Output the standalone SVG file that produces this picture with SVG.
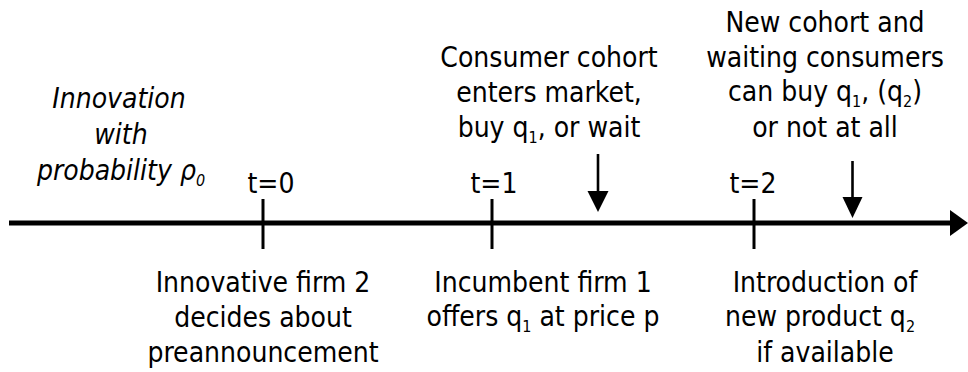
<svg xmlns="http://www.w3.org/2000/svg" width="968" height="372" viewBox="0 0 968 372">
  <style>
    text { font-family: "DejaVu Sans Condensed", "DejaVu Sans", Verdana, sans-serif; font-stretch: condensed; font-size: 28px; fill: #000; text-anchor: middle; }
    .it { font-style: italic; }
    .sub { font-size: 16px; }
    .axis { stroke: #000; stroke-width: 5; fill: none; }
    .tick { stroke: #000; stroke-width: 3; }
    .pointer { stroke: #000; stroke-width: 2.6; }
    .head { fill: #000; }
  </style>

  <g id="connectors">
    <!-- time axis -->
    <line class="axis" x1="9" y1="223" x2="952" y2="223"/>
    <path class="head" d="M950,210 L968,223 L950,236 Z"/>
    <!-- period ticks -->
    <line class="tick" x1="263" y1="199" x2="263" y2="249"/>
    <line class="tick" x1="492" y1="199" x2="492" y2="249"/>
    <line class="tick" x1="754" y1="199" x2="754" y2="249"/>
    <!-- consumer decision pointers -->
    <line class="pointer" x1="598" y1="154" x2="598" y2="200"/>
    <path class="head" d="M587.5,191 L608.5,191 L598,212 Z"/>
    <line class="pointer" x1="852.5" y1="161" x2="852.5" y2="206"/>
    <path class="head" d="M842.5,197 L862.5,197 L852.5,218 Z"/>
  </g>

  <g id="innovation">
    <text class="it" x="119" y="108">Innovation</text>
    <text class="it" x="121" y="144">with</text>
    <text class="it" x="121" y="180">probability ρ<tspan class="sub" dy="6">0</tspan></text>
  </g>

  <g id="t0">
    <text x="271" y="193">t=0</text>
    <text x="263" y="292">Innovative firm 2</text>
    <text x="263" y="327">decides about</text>
    <text x="263" y="362">preannouncement</text>
  </g>

  <g id="t1">
    <text x="494" y="193">t=1</text>
    <text x="543" y="292">Incumbent firm 1</text>
    <text x="543" y="326">offers q<tspan class="sub" dy="6">1</tspan><tspan dy="-6"> at price p</tspan></text>
  </g>

  <g id="consumers-1">
    <text x="549" y="67">Consumer cohort</text>
    <text x="549" y="102">enters market,</text>
    <text x="549" y="137">buy q<tspan class="sub" dy="6">1</tspan><tspan dy="-6">, or wait</tspan></text>
  </g>

  <g id="t2">
    <text x="753" y="193">t=2</text>
    <text x="825" y="292">Introduction of</text>
    <text x="820" y="326">new product q<tspan class="sub" dy="6">2</tspan></text>
    <text x="825" y="362">if available</text>
  </g>

  <g id="consumers-2">
    <text x="825" y="32">New cohort and</text>
    <text x="825" y="67">waiting consumers</text>
    <text x="825" y="101">can buy q<tspan class="sub" dy="6">1</tspan><tspan dy="-6">, (q</tspan><tspan class="sub" dy="6">2</tspan><tspan dy="-6">)</tspan></text>
    <text x="825" y="137">or not at all</text>
  </g>
</svg>
